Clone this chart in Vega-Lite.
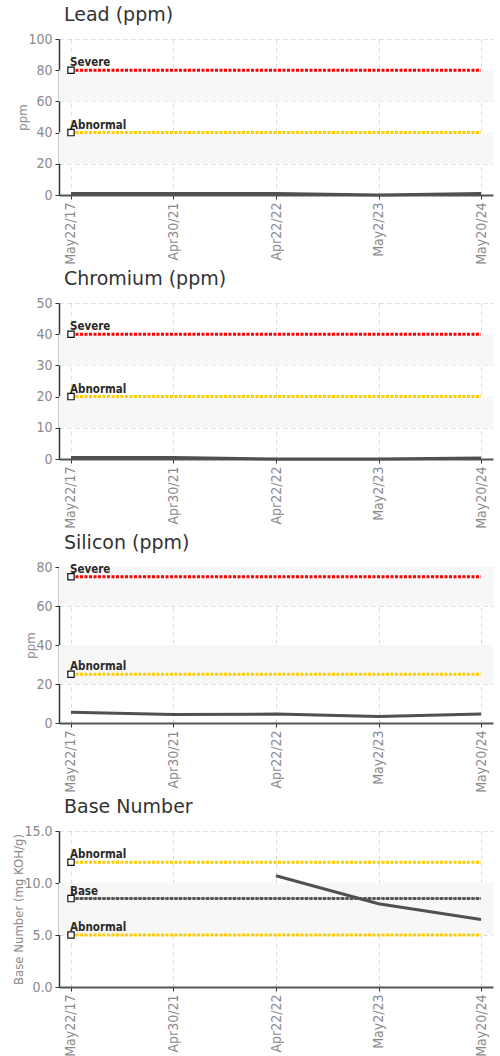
{
  "$schema": "https://vega.github.io/schema/vega-lite/v6.json",
  "padding": {"top": 6, "left": 12, "right": 5, "bottom": 0},
  "background": "white",
  "spacing": 5,
  "datasets": {
    "measure": [
      {"test": "Lead", "date": "May22/17", "value": 1},
      {"test": "Lead", "date": "Apr30/21", "value": 1},
      {"test": "Lead", "date": "Apr22/22", "value": 1},
      {"test": "Lead", "date": "May2/23", "value": 0},
      {"test": "Lead", "date": "May20/24", "value": 1},
      {"test": "Chromium", "date": "May22/17", "value": 0.5},
      {"test": "Chromium", "date": "Apr30/21", "value": 0.5},
      {"test": "Chromium", "date": "Apr22/22", "value": 0},
      {"test": "Chromium", "date": "May2/23", "value": 0},
      {"test": "Chromium", "date": "May20/24", "value": 0.3},
      {"test": "Silicon", "date": "May22/17", "value": 5.5},
      {"test": "Silicon", "date": "Apr30/21", "value": 4.3},
      {"test": "Silicon", "date": "Apr22/22", "value": 4.6},
      {"test": "Silicon", "date": "May2/23", "value": 3.3},
      {"test": "Silicon", "date": "May20/24", "value": 4.6},
      {"test": "Base", "date": "Apr22/22", "value": 10.7},
      {"test": "Base", "date": "May2/23", "value": 8.0},
      {"test": "Base", "date": "May20/24", "value": 6.5}
    ],
    "limits": [
      {"test": "Lead", "label": "Severe", "value": 80, "kind": "severe", "start": "May22/17", "end": "May20/24"},
      {"test": "Lead", "label": "Abnormal", "value": 40, "kind": "abnormal", "start": "May22/17", "end": "May20/24"},
      {"test": "Chromium", "label": "Severe", "value": 40, "kind": "severe", "start": "May22/17", "end": "May20/24"},
      {"test": "Chromium", "label": "Abnormal", "value": 20, "kind": "abnormal", "start": "May22/17", "end": "May20/24"},
      {"test": "Silicon", "label": "Severe", "value": 75, "kind": "severe", "start": "May22/17", "end": "May20/24"},
      {"test": "Silicon", "label": "Abnormal", "value": 25, "kind": "abnormal", "start": "May22/17", "end": "May20/24"},
      {"test": "Base", "label": "Abnormal", "value": 12, "kind": "abnormal", "start": "May22/17", "end": "May20/24"},
      {"test": "Base", "label": "Base", "value": 8.5, "kind": "base", "start": "May22/17", "end": "May20/24"},
      {"test": "Base", "label": "Abnormal", "value": 5, "kind": "abnormal", "start": "May22/17", "end": "May20/24"}
    ],
    "bands": [
      {"test": "Lead", "lo": 20, "hi": 40},
      {"test": "Lead", "lo": 60, "hi": 80},
      {"test": "Chromium", "lo": 10, "hi": 20},
      {"test": "Chromium", "lo": 30, "hi": 40},
      {"test": "Silicon", "lo": 20, "hi": 40},
      {"test": "Silicon", "lo": 60, "hi": 80},
      {"test": "Base", "lo": 5, "hi": 10}
    ]
  },
  "config": {
    "view": {"stroke": null},
    "font": "Liberation Sans Narrow, DejaVu Sans Condensed, Liberation Sans",
    "axis": {
      "labelFont": "Liberation Sans Narrow, DejaVu Sans Condensed, Liberation Sans",
      "labelFontSize": 14,
      "labelColor": "#8a8a8a",
      "titleFont": "Liberation Sans Narrow, DejaVu Sans Condensed, Liberation Sans",
      "titleFontSize": 13,
      "titleFontWeight": "normal",
      "titleColor": "#8a8a8a",
      "grid": true,
      "gridColor": "#d9d9d9",
      "gridDash": [4, 4],
      "gridWidth": 1,
      "tickColor": "#333333",
      "tickSize": 4,
      "labelPadding": 3,
      "labelOverlap": false
    },
    "axisY": {
      "domainColor": "#333333",
      "domainWidth": 1.5,
      "titlePadding": -2
    },
    "axisX": {
      "domainColor": "#555555",
      "domainWidth": 2,
      "labelAngle": 270,
      "labelAlign": "right",
      "labelBaseline": "middle",
      "title": null
    },
    "title": {
      "anchor": "start",
      "frame": "group",
      "font": "DejaVu Sans",
      "fontSize": 19,
      "fontWeight": "normal",
      "color": "#333333",
      "dx": 5,
      "offset": 7
    }
  },
  "vconcat": [
    {
      "title": "Lead (ppm)",
      "width": 434,
      "height": 156,
      "layer": [
        {
          "data": {"name": "bands"},
          "transform": [{"filter": "datum.test == 'Lead'"}],
          "mark": {"type": "rect", "color": "#f7f7f7"},
          "encoding": {
            "y": {"field": "lo", "type": "quantitative", "title": "ppm", "scale": {"domain": [0, 100], "nice": false}, "axis": {"values": [0, 20, 40, 60, 80, 100]}},
            "y2": {"field": "hi"}
          }
        },
        {
          "data": {"name": "limits"},
          "transform": [{"filter": "datum.test == 'Lead'"}],
          "layer": [
            {
              "mark": {"type": "rule", "strokeWidth": 3, "strokeDash": [3, 1.5]},
              "encoding": {
                "x": {"field": "start", "type": "ordinal", "scale": {"type": "point", "domain": ["May22/17", "Apr30/21", "Apr22/22", "May2/23", "May20/24"], "padding": 0.117}},
                "x2": {"field": "end"},
                "y": {"field": "value", "type": "quantitative", "title": "ppm", "axis": {"values": [0, 20, 40, 60, 80, 100]}},
                "color": {"field": "kind", "type": "nominal", "legend": null, "scale": {"domain": ["severe", "abnormal", "base"], "range": ["#ff0000", "#ffcc00", "#555555"]}}
              }
            },
            {
              "mark": {"type": "point", "shape": "square", "filled": true, "fill": "white", "stroke": "#111111", "strokeWidth": 1.2, "size": 40, "opacity": 1},
              "encoding": {
                "x": {"field": "start", "type": "ordinal"},
                "y": {"field": "value", "type": "quantitative", "title": "ppm", "axis": {"values": [0, 20, 40, 60, 80, 100]}}
              }
            },
            {
              "mark": {"type": "text", "align": "left", "baseline": "alphabetic", "dx": -1, "dy": -4, "fontSize": 11.5, "fontWeight": "bold", "color": "#2a2a2a"},
              "encoding": {
                "x": {"field": "start", "type": "ordinal"},
                "y": {"field": "value", "type": "quantitative", "title": "ppm", "axis": {"values": [0, 20, 40, 60, 80, 100]}},
                "text": {"field": "label"}
              }
            }
          ]
        },
        {
          "data": {"name": "measure"},
          "transform": [{"filter": "datum.test == 'Lead'"}],
          "mark": {"type": "line", "color": "#505050", "strokeWidth": 3},
          "encoding": {
            "x": {"field": "date", "type": "ordinal", "sort": null},
            "y": {"field": "value", "type": "quantitative", "title": "ppm", "axis": {"values": [0, 20, 40, 60, 80, 100]}}
          }
        }
      ]
    },
    {
      "title": "Chromium (ppm)",
      "width": 434,
      "height": 156,
      "layer": [
        {
          "data": {"name": "bands"},
          "transform": [{"filter": "datum.test == 'Chromium'"}],
          "mark": {"type": "rect", "color": "#f7f7f7"},
          "encoding": {
            "y": {"field": "lo", "type": "quantitative", "title": null, "scale": {"domain": [0, 50], "nice": false}, "axis": {"values": [0, 10, 20, 30, 40, 50]}},
            "y2": {"field": "hi"}
          }
        },
        {
          "data": {"name": "limits"},
          "transform": [{"filter": "datum.test == 'Chromium'"}],
          "layer": [
            {
              "mark": {"type": "rule", "strokeWidth": 3, "strokeDash": [3, 1.5]},
              "encoding": {
                "x": {"field": "start", "type": "ordinal", "scale": {"type": "point", "domain": ["May22/17", "Apr30/21", "Apr22/22", "May2/23", "May20/24"], "padding": 0.117}},
                "x2": {"field": "end"},
                "y": {"field": "value", "type": "quantitative", "title": null, "axis": {"values": [0, 10, 20, 30, 40, 50]}},
                "color": {"field": "kind", "type": "nominal", "legend": null, "scale": {"domain": ["severe", "abnormal", "base"], "range": ["#ff0000", "#ffcc00", "#555555"]}}
              }
            },
            {
              "mark": {"type": "point", "shape": "square", "filled": true, "fill": "white", "stroke": "#111111", "strokeWidth": 1.2, "size": 40, "opacity": 1},
              "encoding": {
                "x": {"field": "start", "type": "ordinal"},
                "y": {"field": "value", "type": "quantitative", "title": null, "axis": {"values": [0, 10, 20, 30, 40, 50]}}
              }
            },
            {
              "mark": {"type": "text", "align": "left", "baseline": "alphabetic", "dx": -1, "dy": -4, "fontSize": 11.5, "fontWeight": "bold", "color": "#2a2a2a"},
              "encoding": {
                "x": {"field": "start", "type": "ordinal"},
                "y": {"field": "value", "type": "quantitative", "title": null, "axis": {"values": [0, 10, 20, 30, 40, 50]}},
                "text": {"field": "label"}
              }
            }
          ]
        },
        {
          "data": {"name": "measure"},
          "transform": [{"filter": "datum.test == 'Chromium'"}],
          "mark": {"type": "line", "color": "#505050", "strokeWidth": 3},
          "encoding": {
            "x": {"field": "date", "type": "ordinal", "sort": null},
            "y": {"field": "value", "type": "quantitative", "title": null, "axis": {"values": [0, 10, 20, 30, 40, 50]}}
          }
        }
      ]
    },
    {
      "title": "Silicon (ppm)",
      "width": 434,
      "height": 156,
      "layer": [
        {
          "data": {"name": "bands"},
          "transform": [{"filter": "datum.test == 'Silicon'"}],
          "mark": {"type": "rect", "color": "#f7f7f7"},
          "encoding": {
            "y": {"field": "lo", "type": "quantitative", "title": "ppm", "scale": {"domain": [0, 80], "nice": false}, "axis": {"values": [0, 20, 40, 60, 80]}},
            "y2": {"field": "hi"}
          }
        },
        {
          "data": {"name": "limits"},
          "transform": [{"filter": "datum.test == 'Silicon'"}],
          "layer": [
            {
              "mark": {"type": "rule", "strokeWidth": 3, "strokeDash": [3, 1.5]},
              "encoding": {
                "x": {"field": "start", "type": "ordinal", "scale": {"type": "point", "domain": ["May22/17", "Apr30/21", "Apr22/22", "May2/23", "May20/24"], "padding": 0.117}},
                "x2": {"field": "end"},
                "y": {"field": "value", "type": "quantitative", "title": "ppm", "axis": {"values": [0, 20, 40, 60, 80]}},
                "color": {"field": "kind", "type": "nominal", "legend": null, "scale": {"domain": ["severe", "abnormal", "base"], "range": ["#ff0000", "#ffcc00", "#555555"]}}
              }
            },
            {
              "mark": {"type": "point", "shape": "square", "filled": true, "fill": "white", "stroke": "#111111", "strokeWidth": 1.2, "size": 40, "opacity": 1},
              "encoding": {
                "x": {"field": "start", "type": "ordinal"},
                "y": {"field": "value", "type": "quantitative", "title": "ppm", "axis": {"values": [0, 20, 40, 60, 80]}}
              }
            },
            {
              "mark": {"type": "text", "align": "left", "baseline": "alphabetic", "dx": -1, "dy": -4, "fontSize": 11.5, "fontWeight": "bold", "color": "#2a2a2a"},
              "encoding": {
                "x": {"field": "start", "type": "ordinal"},
                "y": {"field": "value", "type": "quantitative", "title": "ppm", "axis": {"values": [0, 20, 40, 60, 80]}},
                "text": {"field": "label"}
              }
            }
          ]
        },
        {
          "data": {"name": "measure"},
          "transform": [{"filter": "datum.test == 'Silicon'"}],
          "mark": {"type": "line", "color": "#505050", "strokeWidth": 3},
          "encoding": {
            "x": {"field": "date", "type": "ordinal", "sort": null},
            "y": {"field": "value", "type": "quantitative", "title": "ppm", "axis": {"values": [0, 20, 40, 60, 80]}}
          }
        }
      ]
    },
    {
      "title": "Base Number",
      "width": 434,
      "height": 156,
      "layer": [
        {
          "data": {"name": "bands"},
          "transform": [{"filter": "datum.test == 'Base'"}],
          "mark": {"type": "rect", "color": "#f7f7f7"},
          "encoding": {
            "y": {"field": "lo", "type": "quantitative", "title": "Base Number (mg KOH/g)", "scale": {"domain": [0, 15], "nice": false}, "axis": {"values": [0, 5, 10, 15], "format": ".1f"}},
            "y2": {"field": "hi"}
          }
        },
        {
          "data": {"name": "limits"},
          "transform": [{"filter": "datum.test == 'Base'"}],
          "layer": [
            {
              "transform": [{"filter": "datum.kind == 'base'"}],
              "mark": {"type": "rule", "strokeWidth": 2, "color": "#9a9a9a"},
              "encoding": {
                "x": {"field": "start", "type": "ordinal"},
                "x2": {"field": "end"},
                "y": {"field": "value", "type": "quantitative", "title": "Base Number (mg KOH/g)", "axis": {"values": [0, 5, 10, 15], "format": ".1f"}}
              }
            },
            {
              "mark": {"type": "rule", "strokeWidth": 3, "strokeDash": [3, 1.5]},
              "encoding": {
                "x": {"field": "start", "type": "ordinal", "scale": {"type": "point", "domain": ["May22/17", "Apr30/21", "Apr22/22", "May2/23", "May20/24"], "padding": 0.117}},
                "x2": {"field": "end"},
                "y": {"field": "value", "type": "quantitative", "title": "Base Number (mg KOH/g)", "axis": {"values": [0, 5, 10, 15], "format": ".1f"}},
                "color": {"field": "kind", "type": "nominal", "legend": null, "scale": {"domain": ["severe", "abnormal", "base"], "range": ["#ff0000", "#ffcc00", "#555555"]}}
              }
            },
            {
              "mark": {"type": "point", "shape": "square", "filled": true, "fill": "white", "stroke": "#111111", "strokeWidth": 1.2, "size": 40, "opacity": 1},
              "encoding": {
                "x": {"field": "start", "type": "ordinal"},
                "y": {"field": "value", "type": "quantitative", "title": "Base Number (mg KOH/g)", "axis": {"values": [0, 5, 10, 15], "format": ".1f"}}
              }
            },
            {
              "mark": {"type": "text", "align": "left", "baseline": "alphabetic", "dx": -1, "dy": -4, "fontSize": 11.5, "fontWeight": "bold", "color": "#2a2a2a"},
              "encoding": {
                "x": {"field": "start", "type": "ordinal"},
                "y": {"field": "value", "type": "quantitative", "title": "Base Number (mg KOH/g)", "axis": {"values": [0, 5, 10, 15], "format": ".1f"}},
                "text": {"field": "label"}
              }
            }
          ]
        },
        {
          "data": {"name": "measure"},
          "transform": [{"filter": "datum.test == 'Base'"}],
          "mark": {"type": "line", "color": "#505050", "strokeWidth": 3},
          "encoding": {
            "x": {"field": "date", "type": "ordinal", "sort": null},
            "y": {"field": "value", "type": "quantitative", "title": "Base Number (mg KOH/g)", "axis": {"values": [0, 5, 10, 15], "format": ".1f"}}
          }
        }
      ]
    }
  ]
}
